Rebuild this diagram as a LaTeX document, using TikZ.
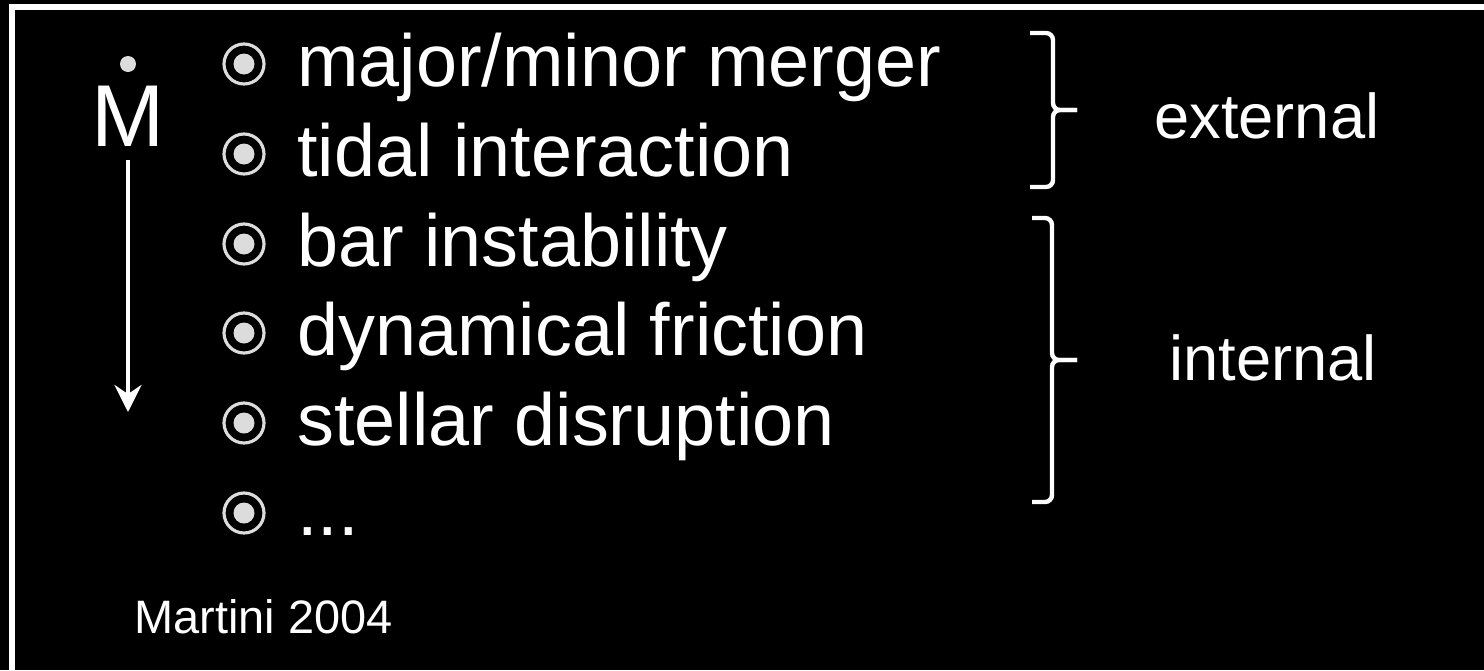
\documentclass[tikz,border=0pt]{standalone}
\usepackage{fontspec}
\setmainfont{Liberation Sans}
\usetikzlibrary{arrows.meta}
\definecolor{markgray}{RGB}{220,220,220}
\tikzset{
  item/.style={anchor=base west, inner sep=0pt, text=white, font=\fontsize{42}{50}\selectfont},
  side/.style={anchor=base west, inner sep=0pt, text=white, font=\fontsize{36}{43}\selectfont},
  ringmark/.style={circle, draw=markgray, line width=1.8pt, minimum size=0.8cm, inner sep=0pt,
    path picture={\fill[markgray] (path picture bounding box.center) circle (0.21cm);}},
  grp/.style={draw=white, line width=2.5pt, rounded corners=0.14cm},
}

\begin{document}
\begin{tikzpicture}[x=0.02cm,y=-0.02cm]
        \useasboundingbox (0,0) rectangle (1484,670);
        \fill[black] (0,0) rectangle (1484,670);
        \draw[white, line width=2.85pt] (12,7) rectangle (1530,720);

        % rate symbol with its downward arrow
        \node[anchor=base, inner sep=0pt, text=white, font=\fontsize{50}{60}\selectfont] (rate) at (128,146) {M};
        \fill[markgray] (128,64) circle (0.16cm);
        \coordinate (rateend) at (128,412);
        \draw[white, line width=2.3pt, shorten <=0.28cm, -{Stealth[length=0.54cm,width=0.54cm,inset=0.18cm]}] (rate.south) -- (rateend);

        % list of processes
        \node[ringmark] (m1) at (244,64) {};
        \node[item] (t1) at (297,86) {major/minor merger};
        \node[ringmark] (m2) at (244,154) {};
        \node[item] (t2) at (297,176) {tidal interaction};
        \node[ringmark] (m3) at (244,244) {};
        \node[item] (t3) at (297,266) {bar instability};
        \node[ringmark] (m4) at (244,333) {};
        \node[item] (t4) at (297,355) {dynamical friction};
        \node[ringmark] (m5) at (244,423) {};
        \node[item] (t5) at (297,445) {stellar disruption};
        \node[ringmark] (m6) at (244,513) {};
        \node[item] (t6) at (297,535) {...};

        % grouping brackets
        \draw[grp] (1030,33) -| (1053,110) -- (1077,110);
        \draw[grp] (1030,187) -| (1053,110) -- (1077,110);
        \node[side] (ext) at (1154,138) {external};

        \draw[grp] (1032,218) -| (1052,360) -- (1077,360);
        \draw[grp] (1032,502) -| (1052,360) -- (1077,360);
        \node[side] (int) at (1169,380) {internal};

        \node[anchor=base west, inner sep=0pt, text=white, font=\fontsize{26.7}{32}\selectfont] (ref) at (134,633) {Martini 2004};
\end{tikzpicture}
\end{document}
